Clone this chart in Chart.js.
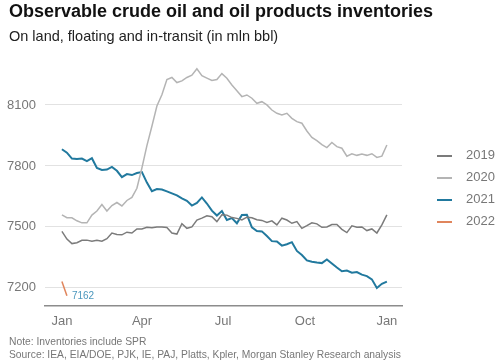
<!DOCTYPE html>
<html lang="en">
<head>
    <meta charset="UTF-8">
    <title>Observable crude oil and oil products inventories</title>
    <script src="https://cdn.jsdelivr.net/npm/chart.js"></script>
    <style>
        body {
            margin: 0;
            width: 499px;
            height: 364px;
            background: #fff;
            font-family: "Liberation Sans", Arial, sans-serif;
            position: relative;
            overflow: hidden;
        }
        .title {
            position: absolute;
            left: 9px;
            top: 1px;
            font-size: 18px;
            font-weight: bold;
            color: #111;
        }
        .subtitle {
            position: absolute;
            left: 9px;
            top: 28px;
            font-size: 14.5px;
            color: #222;
        }
        .chart-box {
            position: absolute;
            left: 0;
            top: 0;
            width: 499px;
            height: 364px;
        }
        .legend {
            position: absolute;
            left: 437px;
            top: 146px;
            font-size: 13px;
            color: #777;
        }
        .legend div {
            height: 22px;
            line-height: 18px;
        }
        .legend span.sw {
            display: inline-block;
            width: 15px;
            height: 2px;
            vertical-align: middle;
            margin-right: 14px;
        }
        .notes {
            position: absolute;
            left: 9px;
            top: 336px;
            font-size: 10.3px;
            color: #777;
            line-height: 12.5px;
        }
    </style>
</head>
<body>
    <div class="chart-box"><canvas id="inv-chart" width="499" height="364"></canvas></div>
    <div class="title">Observable crude oil and oil products inventories</div>
    <div class="subtitle">On land, floating and in-transit (in mln bbl)</div>
    <div class="legend" id="legend"></div>
    <div class="notes">Note: Inventories include SPR<br>Source: IEA, EIA/DOE, PJK, IE, PAJ, Platts, Kpler, Morgan Stanley Research analysis</div>

    <script>
        // values, roughly every 5.6 days through the year
        const inv2019 = [7478, 7440, 7418, 7422, 7434, 7435, 7430, 7434, 7430, 7442,
            7470, 7463, 7461, 7474, 7470, 7490, 7490, 7498, 7496, 7500,
            7500, 7497, 7470, 7465, 7516, 7493, 7500, 7534, 7543, 7555,
            7550, 7526, 7560, 7558, 7546, 7542, 7534, 7548, 7545, 7535,
            7532, 7522, 7530, 7510, 7543, 7534, 7518, 7526, 7493, 7506,
            7520, 7515, 7498, 7500, 7512, 7512, 7488, 7472, 7505, 7498,
            7500, 7482, 7490, 7470, 7510, 7559];
        const inv2020 = [7559, 7545, 7545, 7530, 7520, 7520, 7558, 7578, 7610, 7578,
            7605, 7620, 7603, 7630, 7645, 7690, 7790, 7900, 7995, 8095,
            8150, 8225, 8235, 8210, 8218, 8235, 8246, 8278, 8244, 8232,
            8220, 8225, 8254, 8231, 8198, 8170, 8141, 8149, 8133, 8108,
            8116, 8100, 8075, 8059, 8051, 8059, 8034, 8018, 8010, 7972,
            7940, 7924, 7905, 7890, 7915, 7895, 7887, 7848, 7860, 7852,
            7858, 7852, 7860, 7842, 7848, 7903];
        const inv2021 = [7882, 7865, 7836, 7834, 7836, 7824, 7838, 7790, 7780, 7782,
            7795, 7776, 7745, 7760, 7755, 7765, 7770, 7718, 7676, 7686,
            7684, 7675, 7665, 7655, 7640, 7628, 7605, 7618, 7645, 7615,
            7580, 7556, 7578, 7534, 7543, 7518, 7559, 7560, 7498, 7480,
            7478, 7455, 7430, 7428, 7408, 7415, 7425, 7382, 7362, 7335,
            7329, 7325, 7322, 7340, 7320, 7300, 7282, 7285, 7275, 7278,
            7265, 7258, 7242, 7200, 7220, 7231];
        const inv2022 = [7232, 7162];

        const years = ['2019', '2020', '2021', '2022'];
        const colors = ['#7b7b7b', '#b4b4b4', '#21799e', '#e0855c'];
        const yTicks = [7200, 7500, 7800, 8100];
        const monthTicks = [0, 90, 181, 273, 365];
        const monthLabels = ['Jan', 'Apr', 'Jul', 'Oct', 'Jan'];

        const STEP = 365 / 65; // days between readings

        function toPoints(arr) {
            return arr.map((v, i) => ({ x: i * STEP, y: v }));
        }

        // small text next to the latest 2022 reading
        const lastLabel = {
            id: 'lastLabel',
            afterDatasetsDraw(chart) {
                const meta = chart.getDatasetMeta(3);
                const pt = meta.data[meta.data.length - 1];
                const ctx = chart.ctx;
                ctx.save();
                ctx.font = '10px "Liberation Sans", Arial, sans-serif';
                ctx.fillStyle = '#4b97bd';
                ctx.textBaseline = 'middle';
                ctx.fillText(String(inv2022[inv2022.length - 1]), pt.x + 5, pt.y + 1);
                ctx.restore();
            }
        };

        const allSeries = [inv2019, inv2020, inv2021, inv2022];

        new Chart(document.getElementById('inv-chart'), {
            type: 'line',
            data: {
                datasets: allSeries.map((arr, k) => ({
                    label: years[k],
                    data: toPoints(arr),
                    borderColor: colors[k],
                    borderWidth: k === 2 ? 2 : 1.5,
                    pointRadius: 0,
                    tension: 0,
                    fill: false
                }))
            },
            options: {
                responsive: false,
                animation: false,
                layout: { padding: { left: 0, right: 97, top: 60, bottom: 28 } },
                plugins: {
                    legend: { display: false },
                    tooltip: { enabled: false }
                },
                scales: {
                    x: {
                        type: 'linear',
                        min: -19,
                        max: 382,
                        afterBuildTicks: s => { s.ticks = monthTicks.map(v => ({ value: v })); },
                        afterFit: s => { s.height = 30; },
                        grid: { display: false, drawTicks: false },
                        border: { display: true, color: '#8c8c8c', width: 1.5 },
                        ticks: {
                            padding: 8,
                            color: '#777',
                            font: { size: 13, family: '"Liberation Sans", Arial, sans-serif' },
                            maxRotation: 0,
                            callback: (v) => monthLabels[monthTicks.indexOf(v)]
                        }
                    },
                    y: {
                        min: 7111,
                        max: 8321,
                        afterBuildTicks: s => { s.ticks = yTicks.map(v => ({ value: v })); },
                        afterFit: s => { s.width = 45; },
                        grid: { color: '#e2e2e2', lineWidth: 1, drawTicks: false },
                        border: { display: false },
                        ticks: {
                            padding: 9,
                            color: '#777',
                            font: { size: 13, family: '"Liberation Sans", Arial, sans-serif' },
                            callback: (v) => String(v)
                        }
                    }
                }
            },
            plugins: [lastLabel]
        });

        // legend on the right
        const legend = document.getElementById('legend');
        years.forEach((y, k) => {
            const row = document.createElement('div');
            row.innerHTML = '<span class="sw" style="background:' + colors[k] + '"></span>' + y;
            legend.appendChild(row);
        });
    </script>
</body>
</html>
